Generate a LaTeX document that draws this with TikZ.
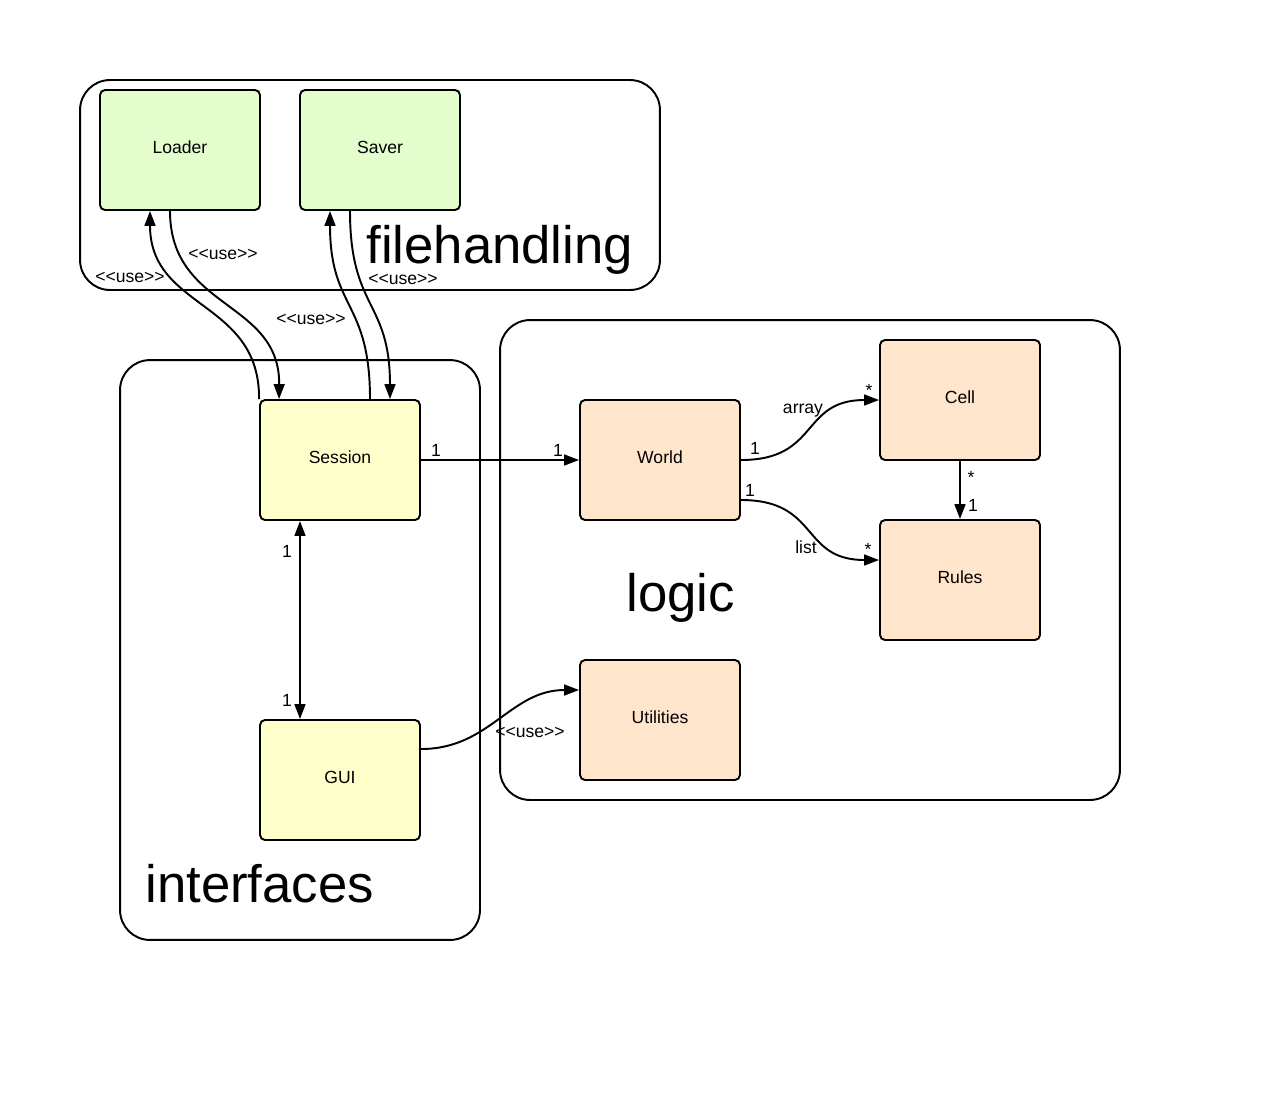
\documentclass[tikz,border=0pt]{standalone}
\usepackage{fontspec}
\setmainfont{Liberation Sans}
\usetikzlibrary{arrows.meta}
\definecolor{fhgreen}{RGB}{227,253,204}
\definecolor{ifyellow}{RGB}{255,255,204}
\definecolor{lgpeach}{RGB}{255,229,204}
\begin{document}
\begin{tikzpicture}[x=0.02cm,y=-0.02cm,
  container/.style={draw,line width=1.1pt,rounded corners=0.6cm,minimum width=#1},
  cls/.style={draw,line width=1.1pt,rounded corners=0.1cm,minimum width=3.2cm,minimum height=2.4cm,font=\fontsize{10}{12}\selectfont,text height=0.25cm,text depth=0.12cm},
  title/.style={font=\fontsize{30}{34}\selectfont,anchor=base west,inner sep=0pt},
  lbl/.style={font=\fontsize{10}{12}\selectfont,inner sep=0pt},
  conn/.style={line width=1.1pt,-{Triangle[length=8.5pt,width=6.2pt]}},
  biconn/.style={line width=1.1pt,{Triangle[length=8.5pt,width=6.2pt]}-{Triangle[length=8.5pt,width=6.2pt]}}
]
\useasboundingbox (0,0) rectangle (1272,1107);
% containers
\node[container=11.6cm,minimum height=4.2cm] (fh) at (370,185) {};
\node[container=7.2cm,minimum height=11.6cm] (intf) at (300,650) {};
\node[container=12.4cm,minimum height=9.6cm] (lg) at (810,560) {};
\node[title] (fhT) at (366,263) {filehandling};
\node[title] (intfT) at (145,902) {interfaces};
\node[title] (lgT) at (626,611) {logic};
% classes
\node[cls,fill=fhgreen] (loader) at (180,150) {Loader};
\node[cls,fill=fhgreen] (saver) at (380,150) {Saver};
\node[cls,fill=ifyellow] (session) at (340,460) {Session};
\node[cls,fill=ifyellow] (gui) at (340,780) {GUI};
\node[cls,fill=lgpeach] (world) at (660,460) {World};
\node[cls,fill=lgpeach] (cell) at (960,400) {Cell};
\node[cls,fill=lgpeach] (rules) at (960,580) {Rules};
\node[cls,fill=lgpeach] (util) at (660,720) {Utilities};
% connectors filehandling
\draw[conn] (session.north west) .. controls (260,300) and (150,310) .. ([xshift=-0.6cm]loader.south);
\draw[conn] ([xshift=-0.2cm]loader.south) .. controls (170,310) and (280,300) .. ([xshift=0.4cm]session.north west);
\draw[conn] ([xshift=0.6cm]session.north) .. controls (370,300) and (330,310) .. ([xshift=-1cm]saver.south);
\draw[conn] ([xshift=-0.6cm]saver.south) .. controls (350,310) and (390,300) .. ([xshift=1cm]session.north);
\node[lbl] (u1) at (130,277) {<{}<use>{}>};
\node[lbl] (u2) at (223,254) {<{}<use>{}>};
\node[lbl] (u3) at (311,319) {<{}<use>{}>};
\node[lbl] (u4) at (403,279) {<{}<use>{}>};
% session - world
\draw[conn] (session.east) -- (world.west);
\node[lbl] (m1) at (436,450) {1};
\node[lbl] (m2) at (558,450) {1};
% world - cell
\draw[conn] (world.east) .. controls (820,460) and (800,400) .. (cell.west);
\node[lbl] (m3) at (755,448) {1};
\node[lbl] (a1) at (803,411) {array};
\node[lbl] (s1) at (869,390) {*};
% world - rules
\draw[conn] ([yshift=-0.8cm]world.east) .. controls (820,500) and (800,560) .. ([yshift=0.4cm]rules.west);
\node[lbl] (m4) at (750,490) {1};
\node[lbl] (l1) at (806,547) {list};
\node[lbl] (s2) at (868,549) {*};
% cell - rules
\draw[conn] (cell.south) -- (rules.north);
\node[lbl] (s3) at (971,477) {*};
\node[lbl] (m5) at (973,505) {1};
% session - gui
\draw[biconn] ([xshift=-0.8cm]session.south) -- ([xshift=-0.8cm]gui.north);
\node[lbl] (m6) at (287,551) {1};
\node[lbl] (m7) at (287,700) {1};
% gui - utilities
\draw[conn] ([yshift=0.62cm]gui.east) .. controls (490,749) and (510,690) .. ([yshift=0.6cm]util.west);
\node[lbl] (u5) at (530,732) {<{}<use>{}>};
\end{tikzpicture}
\end{document}
